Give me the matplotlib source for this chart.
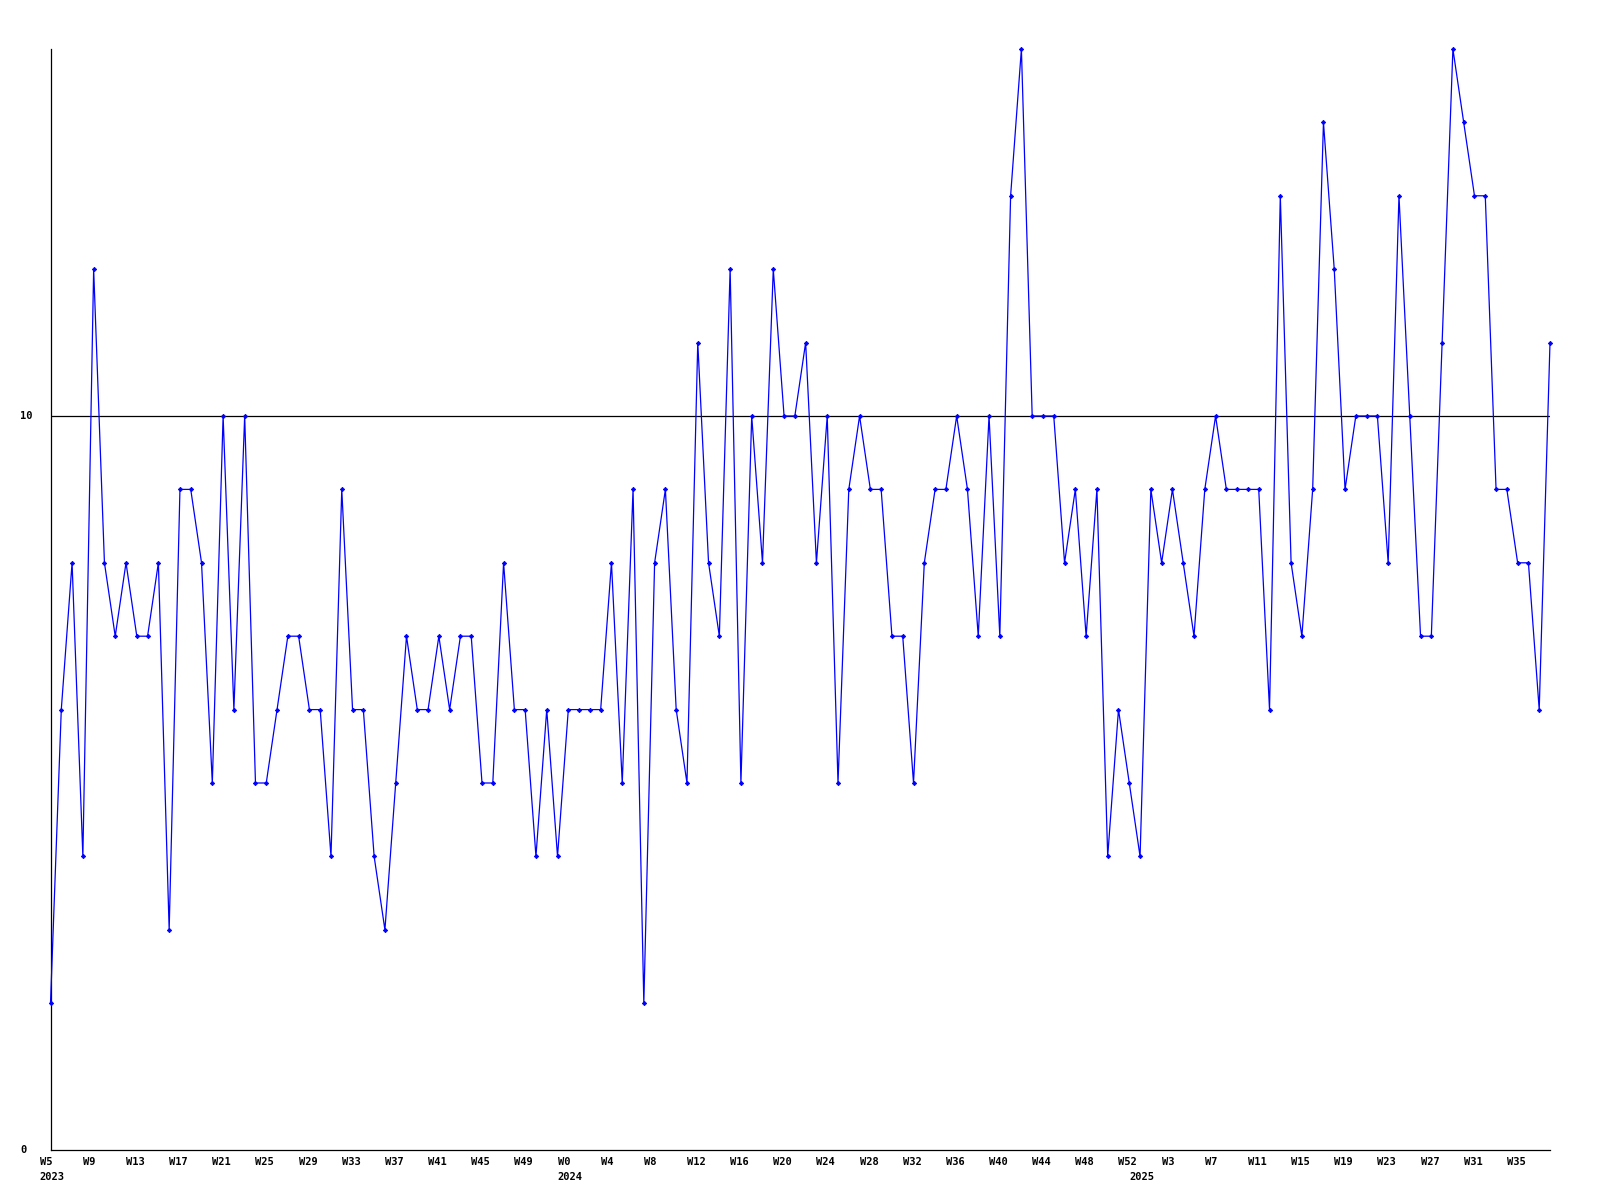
import matplotlib
matplotlib.use('Agg')
import matplotlib.pyplot as plt

# Weekly values, 2023 W5 .. 2025 W38
values = [2, 6, 8, 4, 12, 8, 7, 8, 7, 7, 8, 3, 9, 9, 8, 5, 10, 6, 10, 5,
          5, 6, 7, 7, 6, 6, 4, 9, 6, 6, 4, 3, 5, 7, 6, 6, 7, 6, 7, 7,
          5, 5, 8, 6, 6, 4, 6, 4, 6, 6, 6, 6, 8, 5, 9, 2, 8, 9, 6, 5,
          11, 8, 7, 12, 5, 10, 8, 12, 10, 10, 11, 8, 10, 5, 9, 10, 9, 9, 7, 7,
          5, 8, 9, 9, 10, 9, 7, 10, 7, 13, 15, 10, 10, 10, 8, 9, 7, 9, 4, 6,
          5, 4, 9, 8, 9, 8, 7, 9, 10, 9, 9, 9, 9, 6, 13, 8, 7, 9, 14, 12,
          9, 10, 10, 10, 8, 13, 10, 7, 7, 11, 15, 14, 13, 13, 9, 9, 8, 8, 6, 11]

# period labels: (year, week)
years_weeks = ([("2023", w) for w in range(5, 53)] +
               [("2024", w) for w in range(0, 53)] +
               [("2025", w) for w in range(0, 39)])

ref_value = 10
y_ticks = [0, 10]

fig = plt.figure(figsize=(16, 12), dpi=100)
ax = fig.add_axes([50.5 / 1600, 50 / 1200, (1550 - 50.5) / 1600, (1150 - 49) / 1200])

x = list(range(len(values)))
ax.plot(x, values, color='#0000ff', lw=0.9, marker='D', markersize=2.2,
        markeredgewidth=0.6, clip_on=False, zorder=3)
ax.axhline(ref_value, color='black', lw=0.9, zorder=2)

ax.set_xlim(0, len(values) - 1)
ax.set_ylim(0, 15)
for s in ['top', 'right']:
    ax.spines[s].set_visible(False)
for s in ['left', 'bottom']:
    ax.spines[s].set_linewidth(0.9)
    ax.spines[s].set_color('black')
ax.set_xticks([])
ax.set_yticks([])

font = dict(family='DejaVu Sans Mono', fontweight='bold', fontsize=7.5, color='black')

# week tick labels every 4 weeks
for i in range(0, len(values), 4):
    yr, wk = years_weeks[i]
    ax.annotate(f"W{wk}", xy=(i - 1, 0), xycoords=('data', 'axes fraction'),
                xytext=(0, -8.6), textcoords='offset points',
                ha='left', va='center', annotation_clip=False, **font)

# year labels at first week of each year
prev = None
for i, (yr, wk) in enumerate(years_weeks):
    if yr != prev:
        ax.annotate(yr, xy=(i - 1, 0), xycoords=('data', 'axes fraction'),
                    xytext=(0, -19.4), textcoords='offset points',
                    ha='left', va='center', annotation_clip=False, **font)
        prev = yr

for yt in y_ticks:
    ax.annotate(str(yt), xy=(20, yt), xycoords=('figure pixels', 'data'),
                ha='left', va='center', annotation_clip=False, **font)

fig.savefig('out.png', dpi=100)
